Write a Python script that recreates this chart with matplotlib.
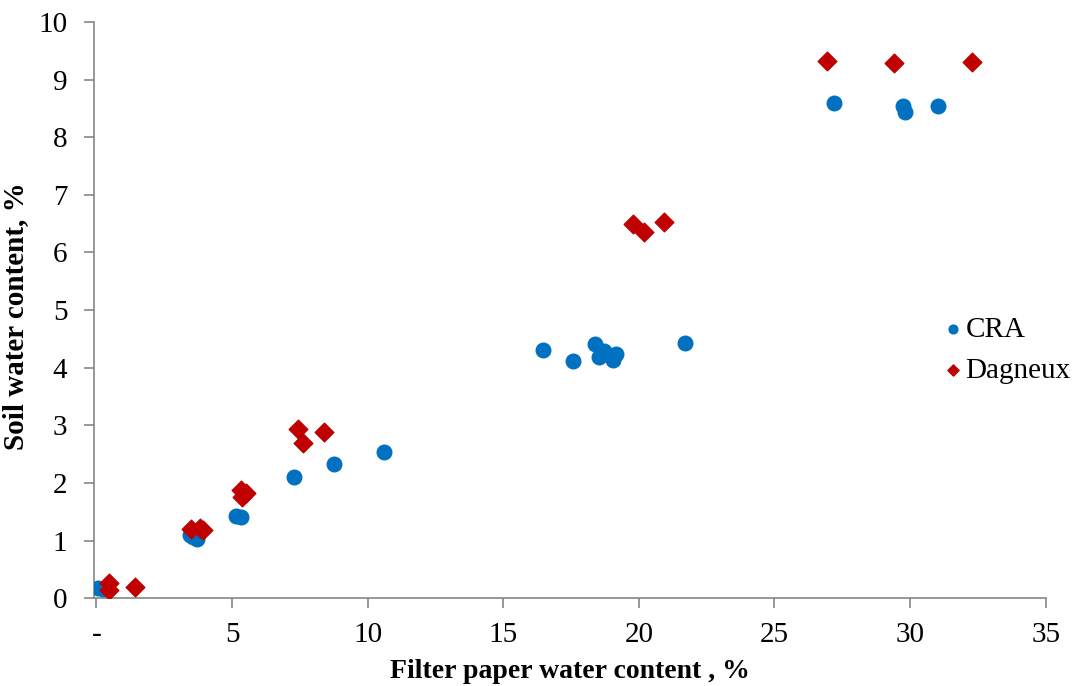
import matplotlib.pyplot as plt

# CRA data (filter paper water content %, soil water content %)
cra_x = [0.05, 0.25, 3.45, 3.55, 3.7, 5.15, 5.33, 7.28, 8.75, 10.6,
         16.46, 17.57, 18.38, 18.71, 18.53, 19.15, 19.04, 21.7,
         27.2, 29.75, 29.8, 31.03]
cra_y = [0.18, 0.16, 1.09, 1.07, 1.02, 1.42, 1.41, 2.10, 2.33, 2.54,
         4.31, 4.12, 4.41, 4.29, 4.19, 4.24, 4.14, 4.42,
         8.59, 8.54, 8.44, 8.54]

# Dagneux data
dag_x = [0.47, 0.47, 1.43, 3.5, 3.8, 3.93, 5.33, 5.52, 5.37,
         7.43, 7.6, 8.38, 19.8, 20.2, 20.92, 26.95, 29.4, 32.28]
dag_y = [0.26, 0.15, 0.19, 1.2, 1.22, 1.18, 1.87, 1.82, 1.75,
         2.93, 2.70, 2.89, 6.49, 6.35, 6.53, 9.32, 9.29, 9.30]

xticks = [0, 5, 10, 15, 20, 25, 30, 35]
xlabels = ['-', '5', '10', '15', '20', '25', '30', '35']

plt.rcParams['font.family'] = ['Liberation Serif', 'DejaVu Serif']

fig = plt.figure(figsize=(10.78, 6.86), dpi=100)
ax = fig.add_axes([0.087, 0.128, 0.883, 0.840])

ax.scatter(cra_x, cra_y, s=110, marker='o', color='#0070C0', label='CRA', zorder=3)
ax.scatter(dag_x, dag_y, s=90, marker='D', color='#C00000', label='Dagneux', zorder=3)

ax.set_xlim(-0.1, 35)
ax.set_ylim(0, 10)
ax.set_xticks(xticks)
ax.set_xticklabels(xlabels)
ax.set_yticks(range(0, 11))

for side in ['top', 'right']:
    ax.spines[side].set_visible(False)
for side in ['left', 'bottom']:
    ax.spines[side].set_color('#868686')
    ax.spines[side].set_linewidth(1.2)
ax.tick_params(axis='both', colors='#868686', length=7, width=1.2,
               labelsize=21, labelcolor='black', direction='out')
ax.tick_params(axis='x', pad=10)
ax.tick_params(axis='y', pad=12)

ax.set_xlabel('Filter paper water content , %', fontsize=20, fontweight='bold', labelpad=8)
ax.set_ylabel('Soil water content, %', fontsize=21, fontweight='bold')
ax.yaxis.set_label_coords(-0.068, 0.49)

ax.legend(loc='center left', bbox_to_anchor=(0.893, 0.43), frameon=False,
          fontsize=21, markerscale=0.6, handlelength=0.6, handletextpad=0.15,
          labelspacing=0.5, borderaxespad=0, borderpad=0)

fig.savefig('out.png', dpi=100)
